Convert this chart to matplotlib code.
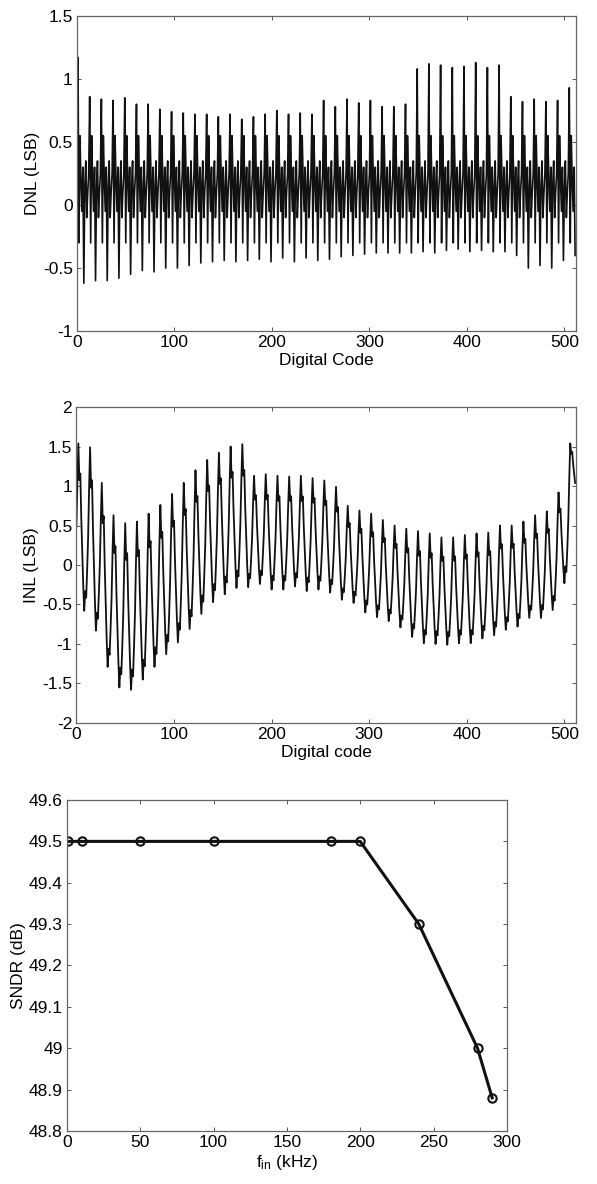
import numpy as np
import matplotlib
matplotlib.use("Agg")
import matplotlib.pyplot as plt
from matplotlib.ticker import FuncFormatter

plt.rcParams['font.family'] = ['Liberation Sans', 'DejaVu Sans']
plt.rcParams['font.size'] = 12.5
plt.rcParams['axes.unicode_minus'] = False
plt.rcParams['mathtext.fontset'] = 'custom'
plt.rcParams['mathtext.rm'] = 'Liberation Sans'
plt.rcParams['mathtext.default'] = 'regular'

codes = np.arange(512)

# DNL: one big spike and one dip every 12 codes (read per period from the plot)
dnl_spike = [1.17, 0.86, 0.84, 0.83, 0.85, 0.80, 0.80, 0.76, 0.74, 0.73, 0.72,
             0.72, 0.70, 0.72, 0.68, 0.70, 0.72, 0.75, 0.72, 0.73, 0.72, 0.83,
             0.78, 0.84, 0.81, 0.83, 0.78, 0.78, 0.80, 1.08, 1.12, 1.11, 1.09,
             1.10, 1.13, 1.09, 1.11, 0.86, 0.82, 0.84, 0.82, 0.83, 0.93]
dnl_dip = [-0.62, -0.60, -0.60, -0.58, -0.55, -0.52, -0.53, -0.50, -0.50, -0.48,
           -0.46, -0.45, -0.44, -0.45, -0.44, -0.43, -0.45, -0.42, -0.45, -0.42,
           -0.44, -0.43, -0.41, -0.40, -0.39, -0.38, -0.38, -0.38, -0.38, -0.37,
           -0.38, -0.36, -0.35, -0.37, -0.36, -0.37, -0.37, -0.40, -0.50, -0.48,
           -0.50, -0.44, -0.40]
# the other codes inside one period
dnl_period = [0.25, 0.0, -0.30, 0.55, 0.20, -0.05, 0.30, 0.0, 0.15, 0.35, -0.10, 0.10]

# INL: peak and trough of every 12-code period
inl_peak = [1.54, 1.49, 1.04, 0.63, 0.53, 0.55, 0.65, 0.76, 0.90, 1.04, 1.20,
            1.33, 1.42, 1.50, 1.53, 1.13, 1.15, 1.13, 1.12, 1.13, 1.10, 1.07,
            0.99, 0.75, 0.69, 0.65, 0.57, 0.50, 0.46, 0.43, 0.40, 0.35, 0.35,
            0.38, 0.40, 0.41, 0.50, 0.50, 0.55, 0.63, 0.68, 0.92, 1.54]
inl_low = [-0.37,
           -0.58, -0.83, -1.29, -1.55, -1.58, -1.45, -1.29, -1.13, -0.98, -0.81,
           -0.62, -0.47, -0.37, -0.29, -0.28, -0.24, -0.31, -0.31, -0.27, -0.33,
           -0.31, -0.35, -0.44, -0.48, -0.60, -0.66, -0.71, -0.79, -0.91, -0.99,
           -1.00, -1.01, -0.99, -0.99, -0.93, -0.89, -0.82, -0.78, -0.67, -0.67,
           -0.57, -0.23,
           0.95]
# position inside a period between trough (0) and peak (1)
inl_period = [0.45, 0.75, 1.0, 0.78, 0.82, 0.55, 0.35, 0.15, 0.0, 0.12, 0.08, 0.25]

# SNDR vs input frequency
fin = [1, 10, 50, 100, 180, 200, 240, 280, 290]
sndr = [49.5, 49.5, 49.5, 49.5, 49.5, 49.5, 49.3, 49.0, 48.88]

# build the code series
dnl = np.tile(dnl_period, 43)[:512]
dnl[1::12] = dnl_spike
dnl[7::12] = dnl_dip

inl = np.zeros(512)
for i in codes:
    k, j = divmod(i, 12)
    f = inl_period[j]
    if j < 2:
        lo, hi = inl_low[k], inl_peak[k]
    elif j <= 8:
        lo, hi = inl_low[k + 1], inl_peak[k]
    else:
        lo, hi = inl_low[k + 1], inl_peak[k + 1]
    inl[i] = lo + f * (hi - lo)

fmt = FuncFormatter(lambda v, p: '%g' % round(v, 6))


def style(ax):
    ax.tick_params(direction='in', top=True, right=True, length=3,
                   width=0.7, color='#555555', labelsize=12.5, pad=3)
    for s in ax.spines.values():
        s.set_color('#666666')
        s.set_linewidth(0.9)
    ax.xaxis.set_major_formatter(fmt)
    ax.yaxis.set_major_formatter(fmt)


fig = plt.figure(figsize=(5.97, 11.84), dpi=100)

ax1 = fig.add_axes([0.129, 0.7204, 0.836, 0.2661])
ax1.plot(codes, dnl, color='#111111', lw=1.2)
ax1.set_xlim(0, 512)
ax1.set_ylim(-1, 1.5)
ax1.set_xticks([0, 100, 200, 300, 400, 500])
ax1.set_yticks([-1, -0.5, 0, 0.5, 1, 1.5])
ax1.set_xlabel('Digital Code', labelpad=2)
ax1.set_ylabel('DNL (LSB)', labelpad=2)
style(ax1)

ax2 = fig.add_axes([0.128, 0.3894, 0.837, 0.2668])
ax2.plot(codes, inl, color='#111111', lw=1.3)
ax2.set_xlim(0, 512)
ax2.set_ylim(-2, 2)
ax2.set_xticks([0, 100, 200, 300, 400, 500])
ax2.set_yticks([-2, -1.5, -1, -0.5, 0, 0.5, 1, 1.5, 2])
ax2.set_xlabel('Digital code', labelpad=2)
ax2.set_ylabel('INL (LSB)', labelpad=2)
style(ax2)

ax3 = fig.add_axes([0.112, 0.0448, 0.737, 0.2795])
ax3.plot(fin, sndr, color='#111111', lw=2.2, marker='o', ms=6,
         mfc='none', mec='#111111', mew=1.5)
ax3.set_xlim(0, 300)
ax3.set_ylim(48.8, 49.6)
ax3.set_xticks([0, 50, 100, 150, 200, 250, 300])
ax3.set_yticks(np.arange(48.8, 49.65, 0.1))
ax3.set_xlabel(r'f$_{in}$ (kHz)', labelpad=2)
ax3.set_ylabel('SNDR (dB)', labelpad=2)
style(ax3)

fig.savefig('out.png', dpi=100)
